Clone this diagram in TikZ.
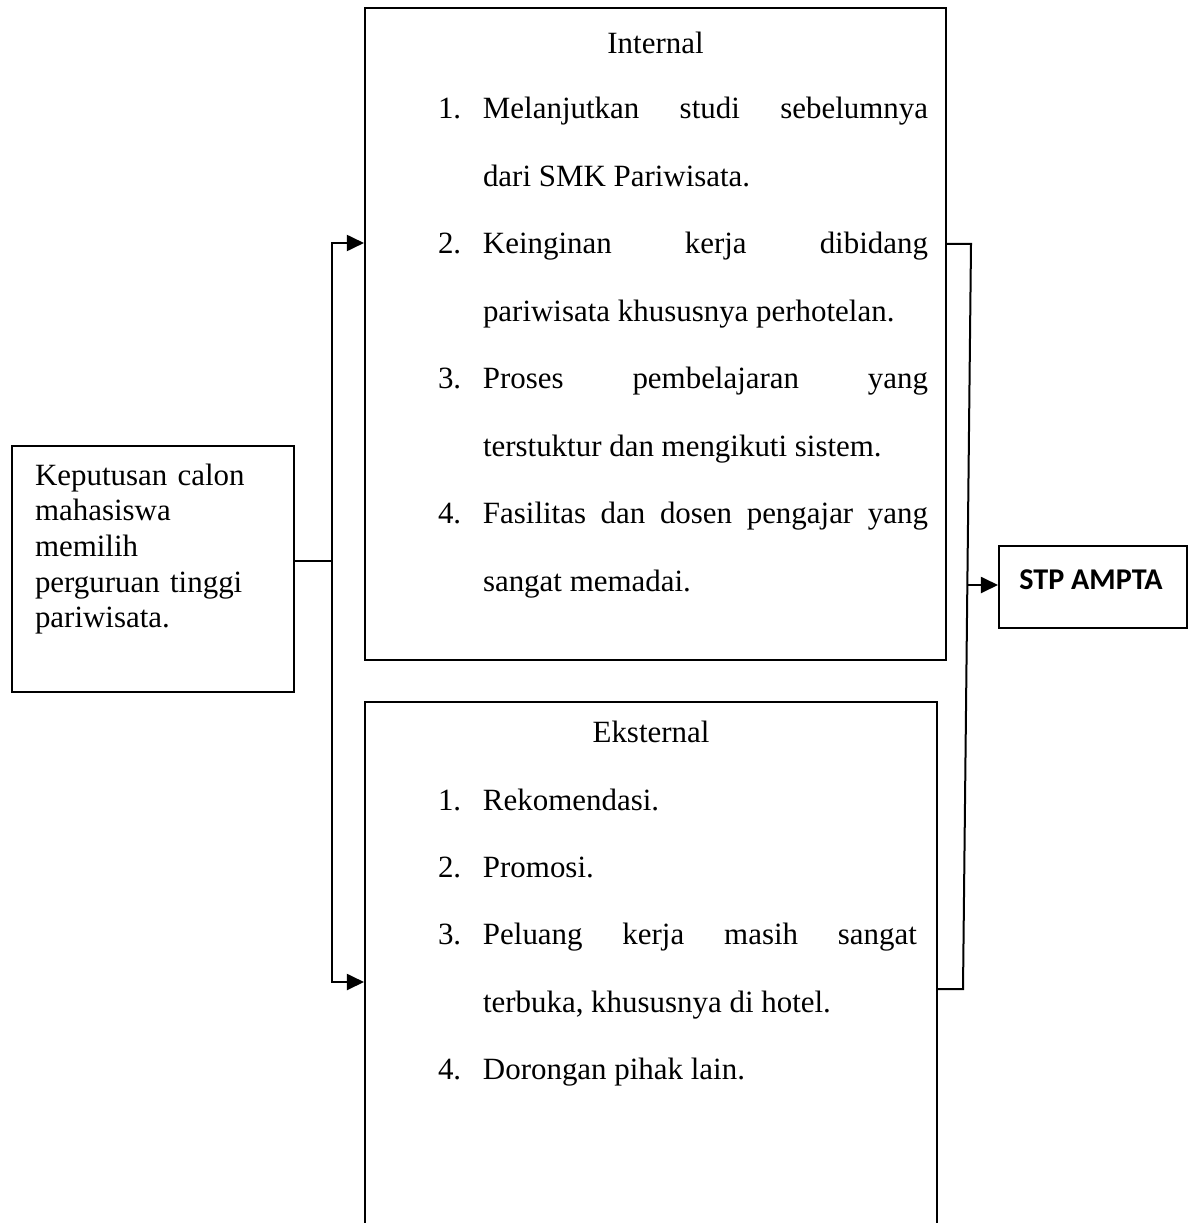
\documentclass[tikz,border=0pt]{standalone}
\usepackage{fontspec}
\setmainfont{Liberation Serif}
\newfontfamily\stpfont{Carlito}
\usetikzlibrary{arrows.meta}
\hbadness=10000
\hyphenpenalty=10000
\exhyphenpenalty=10000
\newcommand\numitem[1]{\hangindent=16.875pt\hangafter=1\makebox[16.875pt][l]{#1}}

\begin{document}
\begin{tikzpicture}[x=0.375pt, y=-0.375pt, line width=0.75pt,
      panel/.style={rectangle, draw, inner sep=0pt},
      title/.style={anchor=base, inner sep=0pt, font=\fontsize{11.6}{14}\selectfont},
      listtext/.style={anchor=base west, inner sep=0pt, align=justify, font=\fontsize{11.6}{25.3}\selectfont},
      arr/.style={-{Triangle[length=6.4pt,width=6pt]}}]
      \clip (0,0) rectangle (1192,1223);
      \node[panel, minimum width=105.75pt, minimum height=92.25pt](decision) at (153,569){};
      \node[anchor=base west, inner sep=0pt, text width=93.75pt, align=left,
            font=\fontsize{11.6}{13.4}\selectfont](decisiontext) at (34,485)
            {Keputusan calon\\ mahasiswa\\ memilih\\ perguruan tinggi\\ pariwisata.};
      \node[panel, minimum width=217.9pt, minimum height=244.5pt](internal) at (655.5,334){};
      \node[title](internaltitle) at (655.5,54){Internal};
      \node[listtext, text width=183.75pt](internallist) at (437,119){%
        \numitem{1.}Melanjutkan studi sebelumnya\linebreak dari SMK Pariwisata.\par
        \numitem{2.}Keinginan kerja dibidang\linebreak pariwisata khususnya perhotelan.\par
        \numitem{3.}Proses pembelajaran yang\linebreak terstuktur dan mengikuti sistem.\par
        \numitem{4.}Fasilitas dan dosen pengajar yang\linebreak sangat memadai.\par};
      \node[panel, minimum width=214.5pt, minimum height=225pt](external) at (651,1002){};
      \node[title](externaltitle) at (651,742){Eksternal};
      \node[listtext, text width=179.6pt](externallist) at (437,810){%
        \numitem{1.}Rekomendasi.\par
        \numitem{2.}Promosi.\par
        \numitem{3.}Peluang kerja masih sangat\linebreak terbuka, khususnya di hotel.\par
        \numitem{4.}Dorongan pihak lain.\par};
      \node[panel, minimum width=70.5pt, minimum height=30.75pt](stp) at (1093,587){};
      \node[anchor=base, inner sep=0pt, font=\stpfont\bfseries\fontsize{11.3}{13}\selectfont](stptext) at (1091,589){STP AMPTA};
      \coordinate(split) at (332,561);
      \coordinate(tapin) at (332,243);
      \coordinate(tapex) at (332,982);
      \coordinate(outin) at (971,244);
      \coordinate(outex) at (963,989);
      \coordinate(outmid) at (967.5,585);
      \draw (split -| decision.east) -- (split);
      \draw[arr] (split) -- (tapin) -- (tapin -| internal.west);
      \draw[arr] (split) -- (tapex) -- (tapex -| external.west);
      \draw (outin -| internal.east) -- (outin) -- (outex) -- (outex -| external.east);
      \draw[arr] (outmid) -- (outmid -| stp.west);
    \end{tikzpicture}
\end{document}
